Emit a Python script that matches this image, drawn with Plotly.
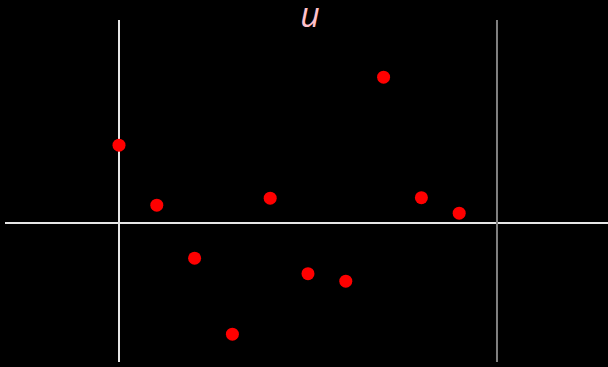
import plotly.graph_objects as go

# point values
x_vals = [0, 1, 2, 3, 4, 5, 6, 7, 8, 9]
y_vals = [1.55, 0.35, -0.71, -2.23, 0.49, -1.02, -1.17, 2.91, 0.50, 0.19]
title_text = "u"
marker_x = 10

fig = go.Figure()
fig.add_trace(go.Scatter(x=x_vals, y=y_vals, mode="markers",
                         marker=dict(color="red", size=13),
                         showlegend=False))

# grey vertical marker line
fig.add_shape(type="line", x0=marker_x, x1=marker_x, y0=0, y1=1,
              xref="x", yref="paper", line=dict(color="#808080", width=2))

fig.update_layout(
    width=608, height=367,
    paper_bgcolor="black", plot_bgcolor="black",
    margin=dict(l=5, r=0, t=20, b=5),
    title=dict(text="<i>" + title_text + "</i>", x=0.51, xanchor="center",
               y=0.99, yanchor="top",
               font=dict(color="pink", size=34, family="Open Sans")),
    xaxis=dict(range=[-3.016, 12.937], showgrid=False, showticklabels=False,
               zeroline=True, zerolinecolor="#e6e6e6", zerolinewidth=2),
    yaxis=dict(range=[-2.786, 4.054], showgrid=False, showticklabels=False,
               zeroline=True, zerolinecolor="#e6e6e6", zerolinewidth=2),
)

# drop the default page margin so the figure fills the window
fig.write_html("out.html", config={"displayModeBar": False},
               post_script="document.body.style.margin='0';"
                           "document.body.style.background='black';")
